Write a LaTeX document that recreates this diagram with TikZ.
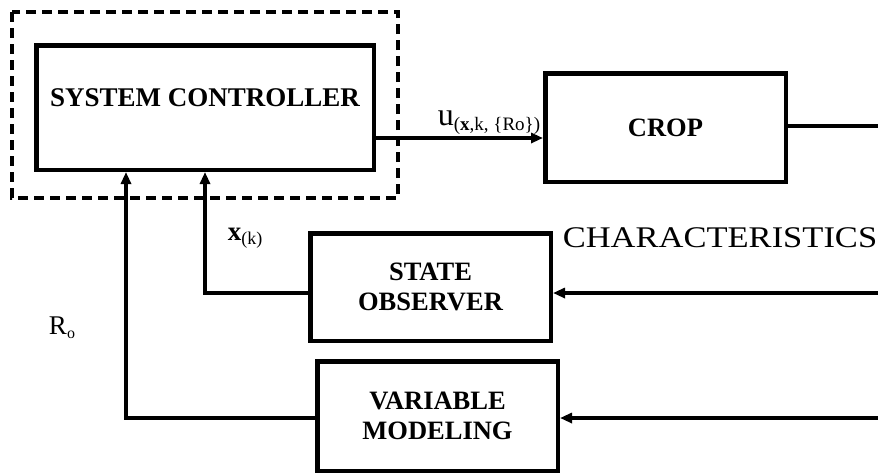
\documentclass[tikz,border=0pt]{standalone}
\usepackage{fontspec}
\setmainfont{Liberation Serif}
\usetikzlibrary{arrows.meta,positioning}
\begin{document}
\begin{tikzpicture}[x=1pt,y=-1pt,>={Triangle[length=12pt,width=10pt]}, line join=miter,
	blok/.style={draw,line width=4.5pt,inner sep=0pt,minimum width=240.5pt,align=center,font=\bfseries\fontsize{26.5}{30}\selectfont},
	noi/.style={line width=3.2pt},
	chu/.style={inner sep=0pt,font=\fontsize{27}{27}\selectfont}]
	\useasboundingbox (0,0) rectangle (878,475);
	% cac khoi
	\node[blok,minimum width=337.5pt,minimum height=124.5pt,
	label={[font=\bfseries\fontsize{27}{27}\selectfont,yshift=9.5pt]center:SYSTEM CONTROLLER}] (ctrl) at (205,107.5) {};
	\node[blok,minimum height=108.5pt] (crop) at (665.5,127.5) {CROP};
	\node[blok,minimum height=107.5pt] (obs) at (430.5,287) {STATE\\OBSERVER};
	\node[blok,minimum height=109.5pt] (var) at (437.5,416) {VARIABLE\\MODELING};
	\draw[line width=3.5pt,dash pattern=on 10pt off 6pt] (12,12) rectangle (398,198);
	% dau vao, dau ra
	\coordinate (u) at (543,138);
	\coordinate (out) at (878,126);
	\coordinate (in1) at (878,293);
	\coordinate (in2) at (878,418);
	% ket noi
	\draw[noi,->] (ctrl.east |- u) -- (crop.west |- u);
	\draw[noi] (crop.east |- out) -- (out);
	\draw[noi,->] (in1) -- (obs.east |- in1);
	\draw[noi,->] (in2) -- (var.east |- in2);
	\draw[noi,->] ([yshift=-6pt]obs.west) -| (ctrl.south);
	\draw[noi,->] ([yshift=-2pt]var.west) -| ([xshift=-79pt]ctrl.south);
	% nhan
	\path
	(489,123) node[chu] (ulab) {\fontsize{32}{32}\selectfont u\raisebox{-5pt}{\fontsize{19}{19}\selectfont(\textbf{x},k, \{Ro\})}}
	(245,238) node[chu] (xlab) {\textbf{x}\raisebox{-4pt}{\fontsize{18}{18}\selectfont(k)}}
	(62,328) node[chu] (rlab) {R\raisebox{-4pt}{\fontsize{16}{16}\selectfont o}}
	(720,238) node[chu] (chlab) {\fontsize{30}{30}\selectfont\scalebox{1.15}[1]{CHARACTERISTICS}}
	;
\end{tikzpicture}
\end{document}
